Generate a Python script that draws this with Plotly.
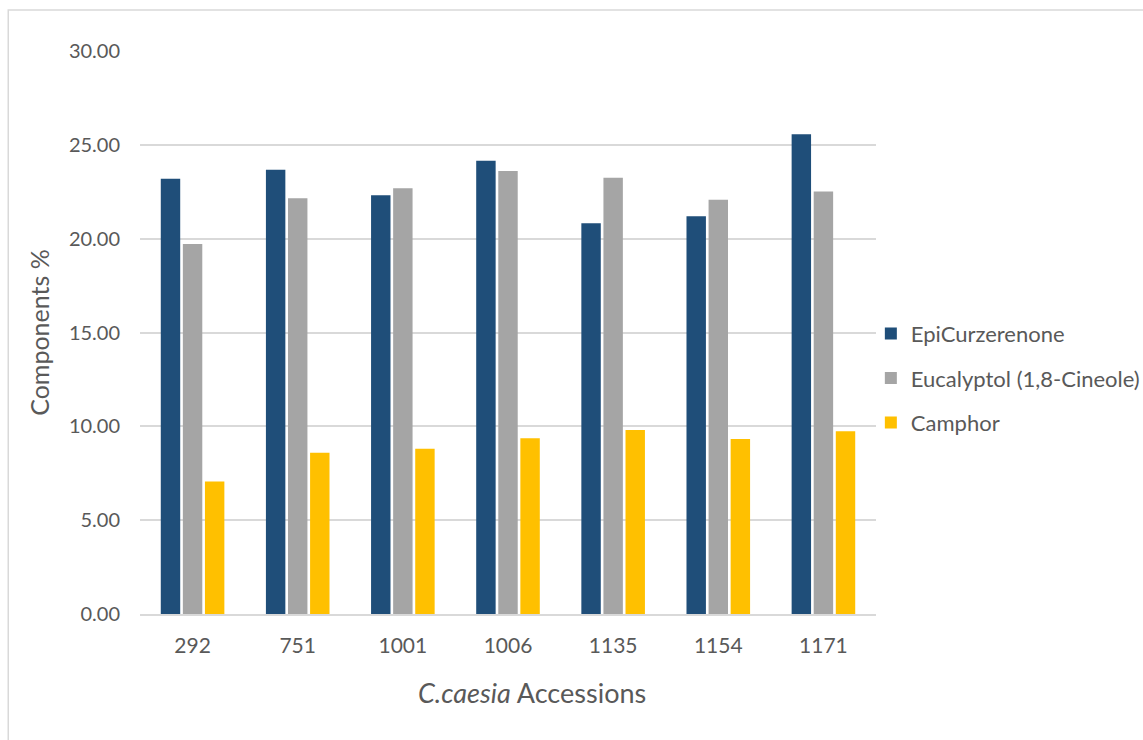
import plotly.graph_objects as go

# Accessions and the three major essential-oil components (%)
accessions = ["292", "751", "1001", "1006", "1135", "1154", "1171"]
epicurzerenone = [23.19, 23.67, 22.32, 24.15, 20.82, 21.19, 25.57]
eucalyptol = [19.72, 22.15, 22.69, 23.61, 23.24, 22.08, 22.51]
camphor = [7.06, 8.59, 8.80, 9.37, 9.81, 9.32, 9.74]

series = [
    ("EpiCurzerenone", epicurzerenone, "#1f4e79"),
    ("Eucalyptol (1,8-Cineole)", eucalyptol, "#a5a5a5"),
    ("Camphor", camphor, "#ffc000"),
]

FONT = "Lato"
TEXT = "#595959"

fig = go.Figure()
for i, (name, vals, color) in enumerate(series):
    fig.add_trace(go.Bar(
        x=accessions, y=vals, name=name,
        marker=dict(color=color, line=dict(width=0)),
        legendgroup=f"g{i}",
    ))

fig.update_layout(
    width=1143, height=740,
    margin=dict(l=140, r=267, t=51, b=126, autoexpand=False),
    paper_bgcolor="white", plot_bgcolor="white",
    barmode="group", bargap=0.37, bargroupgap=0.12,
    font=dict(family=FONT, size=20, color=TEXT),
    showlegend=True,
    legend=dict(
        x=0.993, y=0.419, xanchor="left", yanchor="middle",
        font=dict(family=FONT, size=22, color=TEXT),
        tracegroupgap=13, traceorder="grouped",
        bgcolor="rgba(0,0,0,0)",
    ),
)

fig.update_yaxes(
    range=[0, 30], dtick=5, tickformat=".2f",
    showgrid=True, gridcolor="#d9d9d9", gridwidth=1.5,
    zeroline=False, showline=False,
    ticks="outside", ticklen=15, tickcolor="rgba(0,0,0,0)",
    tickfont=dict(family=FONT, size=20, color=TEXT),
    title=dict(text="Components %", standoff=12,
               font=dict(family=FONT, size=25, color=TEXT)),
)
fig.update_xaxes(
    showline=True, linecolor="#d9d9d9", linewidth=1.5,
    showgrid=False,
    ticks="outside", ticklen=12, tickcolor="rgba(0,0,0,0)",
    tickfont=dict(family=FONT, size=21, color=TEXT),
)

# Horizontal axis title, centred on the chart area rather than the plot
fig.add_annotation(
    text="<i>C.caesia</i> Accessions", showarrow=False,
    xref="paper", yref="paper", x=0.5326, y=-0.1403,
    xanchor="center", yanchor="middle",
    font=dict(family=FONT, size=27, color=TEXT),
)

# Light chart-area border
fig.add_shape(
    type="rect", xref="paper", yref="paper",
    x0=-0.179, y0=-0.6, x1=1.6, y1=1.073,
    line=dict(color="#d9d9d9", width=1.5), fillcolor="rgba(0,0,0,0)",
    layer="below",
)

fig.write_html("out.html")
